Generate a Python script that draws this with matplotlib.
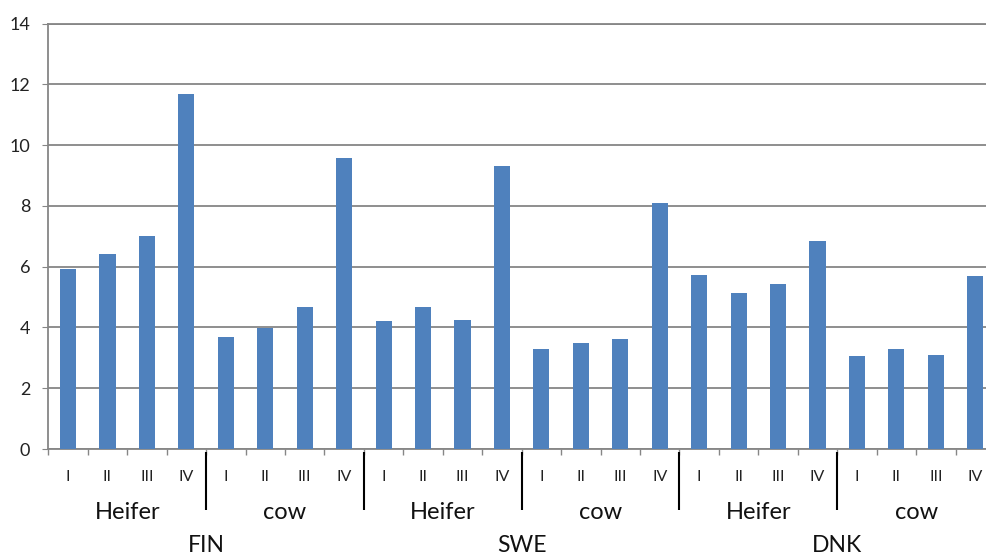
import matplotlib
matplotlib.use("Agg")
import matplotlib.pyplot as plt
import matplotlib.transforms as mtransforms
import numpy as np

countries = ["FIN", "SWE", "DNK"]
groups = ["Heifer", "cow"]
periods = ["I", "II", "III", "IV"]

fin_values = [5.94, 6.41, 7.02, 11.69, 3.69, 3.97, 4.66, 9.58]
swe_values = [4.22, 4.66, 4.26, 9.32, 3.29, 3.50, 3.62, 8.11]
dnk_values = [5.72, 5.13, 5.43, 6.85, 3.05, 3.29, 3.09, 5.68]

yticks = [0, 2, 4, 6, 8, 10, 12, 14]

plt.rcParams["font.family"] = ["Lato", "DejaVu Sans"]

values = fin_values + swe_values + dnk_values
n = len(values)
x = np.arange(n)

W, H = 986, 554
fig = plt.figure(figsize=(W / 100, H / 100), dpi=100)
left_px, right_px, top_px, bottom_px = 48.3, 995.0, 23.7, 449.0
ax = fig.add_axes([left_px / W, 1 - bottom_px / H,
                   (right_px - left_px) / W, (bottom_px - top_px) / H])

grid_c = "#868686"
ax.bar(x, values, width=0.41, color="#4f81bd", zorder=3)
ax.set_xlim(-0.5, n - 0.5)
ax.set_ylim(0, 14)
ax.set_yticks(yticks)
ax.set_yticklabels([str(v) for v in yticks], fontsize=13, color="#222222")
ax.yaxis.grid(True, color=grid_c, linewidth=1.3, zorder=0)
ax.tick_params(axis="y", length=4, color=grid_c, pad=9)
for s in ["left", "bottom", "top"]:
    ax.spines[s].set_color(grid_c)
    ax.spines[s].set_linewidth(1.3)
ax.spines["right"].set_visible(False)

# category boundary ticks
ax.set_xticks(np.arange(-0.5, n, 1.0))
ax.set_xticklabels([])
ax.tick_params(axis="x", length=4, color=grid_c, width=1.0)

trans = mtransforms.blended_transform_factory(ax.transData, fig.transFigure)

def fy(px):
    return 1 - px / H

# period labels
for i in range(n):
    ax.text(x[i], fy(480.7), periods[i % 4], transform=trans, ha="center",
            va="baseline", fontsize=11.5, color="#222222")

# group labels
for g in range(n // 4):
    cx = g * 4 + 1.5
    ax.text(cx, fy(519.3), groups[g % 2], transform=trans, ha="center",
            va="baseline", fontsize=17, color="#111111")

# country labels
for c in range(len(countries)):
    cx = c * 8 + 3.5
    ax.text(cx, fy(551.5), countries[c], transform=trans, ha="center",
            va="baseline", fontsize=16.5, color="#111111")

# separators between groups
for b in range(4, n, 4):
    ax.plot([b - 0.5, b - 0.5], [fy(452), fy(510)], transform=trans,
            color="black", linewidth=1.5, clip_on=False, solid_capstyle="butt")

fig.savefig("out.png", dpi=100)
